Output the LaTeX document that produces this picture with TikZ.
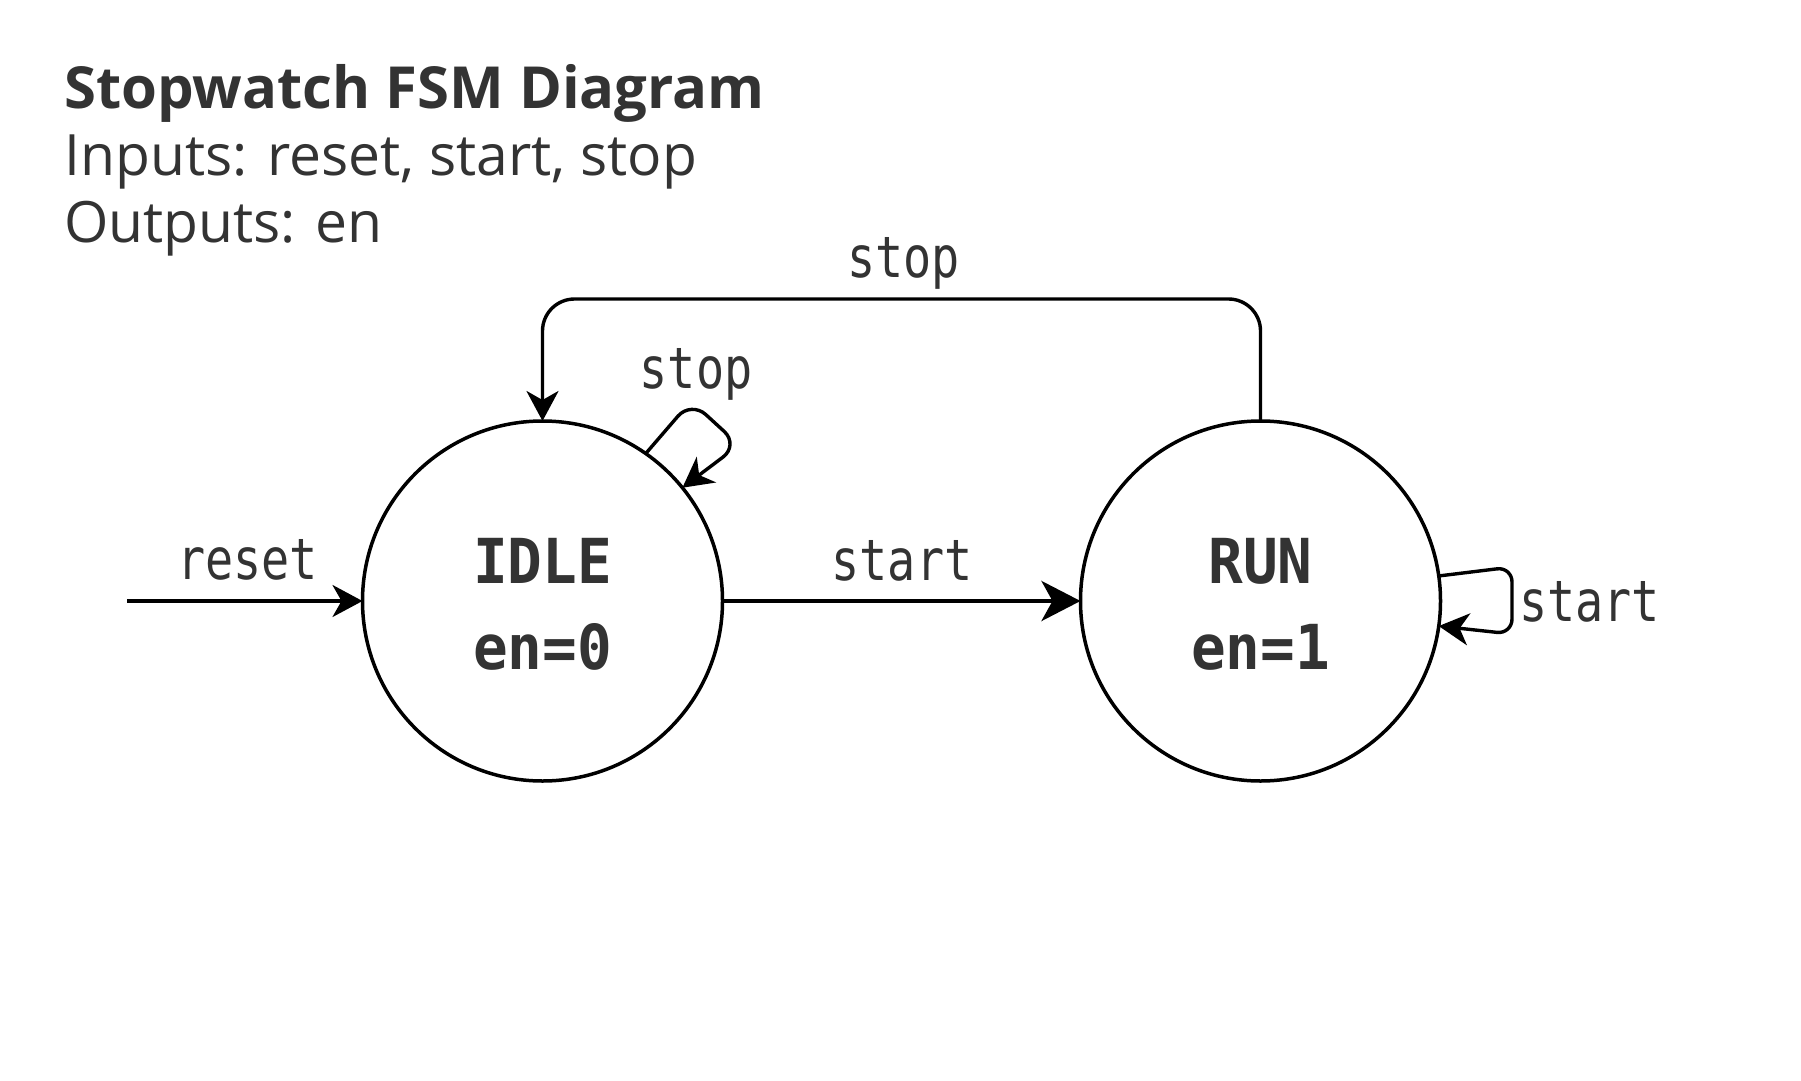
\documentclass[tikz,border=0pt]{standalone}
\usepackage{fontspec}
\setmainfont{Open Sans}
\newfontfamily\lblfont[FakeStretch=0.82]{DejaVu Sans Mono}
\newfontfamily\statefont[FakeStretch=0.93]{DejaVu Sans Mono}
\usetikzlibrary{arrows.meta}
\definecolor{txt}{HTML}{333333}
\begin{document}
\begin{tikzpicture}[x=1pt,y=-1pt,
  state/.style={circle, draw=black, line width=3.5pt, minimum size=360pt, inner sep=0pt, outer sep=0pt},
  statetext/.style={text=txt, inner sep=0pt, anchor=base, font=\statefont\bfseries\fontsize{62}{87}\selectfont},
  edge/.style={draw=black, line width=3.4pt, -{Stealth[length=30pt,width=32pt,inset=9pt]}},
  bigedge/.style={draw=black, line width=4.4pt, -{Stealth[length=39pt,width=40pt,inset=11pt]}},
  lbl/.style={text=txt, inner sep=0pt, font=\lblfont\fontsize{57}{60}\selectfont},
  ttl/.style={text=txt, inner sep=0pt, anchor=base west}]
\useasboundingbox[fill=white] (0,0) rectangle (1801,1081);
% title
\node[ttl, font=\bfseries\fontsize{58}{60}\selectfont] (title) at (64,108.5) {Stopwatch FSM Diagram};
\node[ttl, font=\fontsize{57}{60}\selectfont] (inputs) at (64,175.5) {Inputs: reset, start, stop};
\node[ttl, font=\fontsize{57}{60}\selectfont] (outputs) at (64,242.5) {Outputs: en};
% states
\node[state] (idle) at (542.5,601) {};
\node[statetext] (idleA) at (542.5,583) {IDLE};
\node[statetext] (idleB) at (542.5,669.5) {en=0};
\node[state] (run) at (1260.5,601) {};
\node[statetext] (runA) at (1260.5,583) {RUN};
\node[statetext] (runB) at (1260.5,669.5) {en=1};
% reset
\coordinate (rs) at (127,601);
\draw[edge] (rs) -- (idle.west);
\node[lbl, anchor=base] (lreset) at (247.5,579.3) {reset};
% idle -> run
\draw[bigedge] (idle.east) -- (run.west);
\node[lbl, anchor=base] (lstart) at (902,580) {start};
% run -> idle (top)
\draw[edge, rounded corners=32pt] (run.north) -- ++(0,-122) -| (idle.north);
\node[lbl, anchor=base] (lstop) at (903.5,277.3) {stop};
% idle self loop
\coordinate (ic1) at (691,401);
\coordinate (ic2) at (739,445);
\draw[edge, rounded corners=20pt] (idle.55) -- (ic1) -- (ic2) -- (idle.39);
\node[lbl, anchor=base] (lstop2) at (696,388) {stop};
% run self loop
\coordinate (rc1) at (1512,567);
\coordinate (rc2) at (1512,634);
\draw[edge, rounded corners=15pt] (run.8) -- (rc1) -- (rc2) -- (run.-8);
\node[lbl, anchor=base west] (lstart2) at (1519,621.7) {start};
\end{tikzpicture}
\end{document}
